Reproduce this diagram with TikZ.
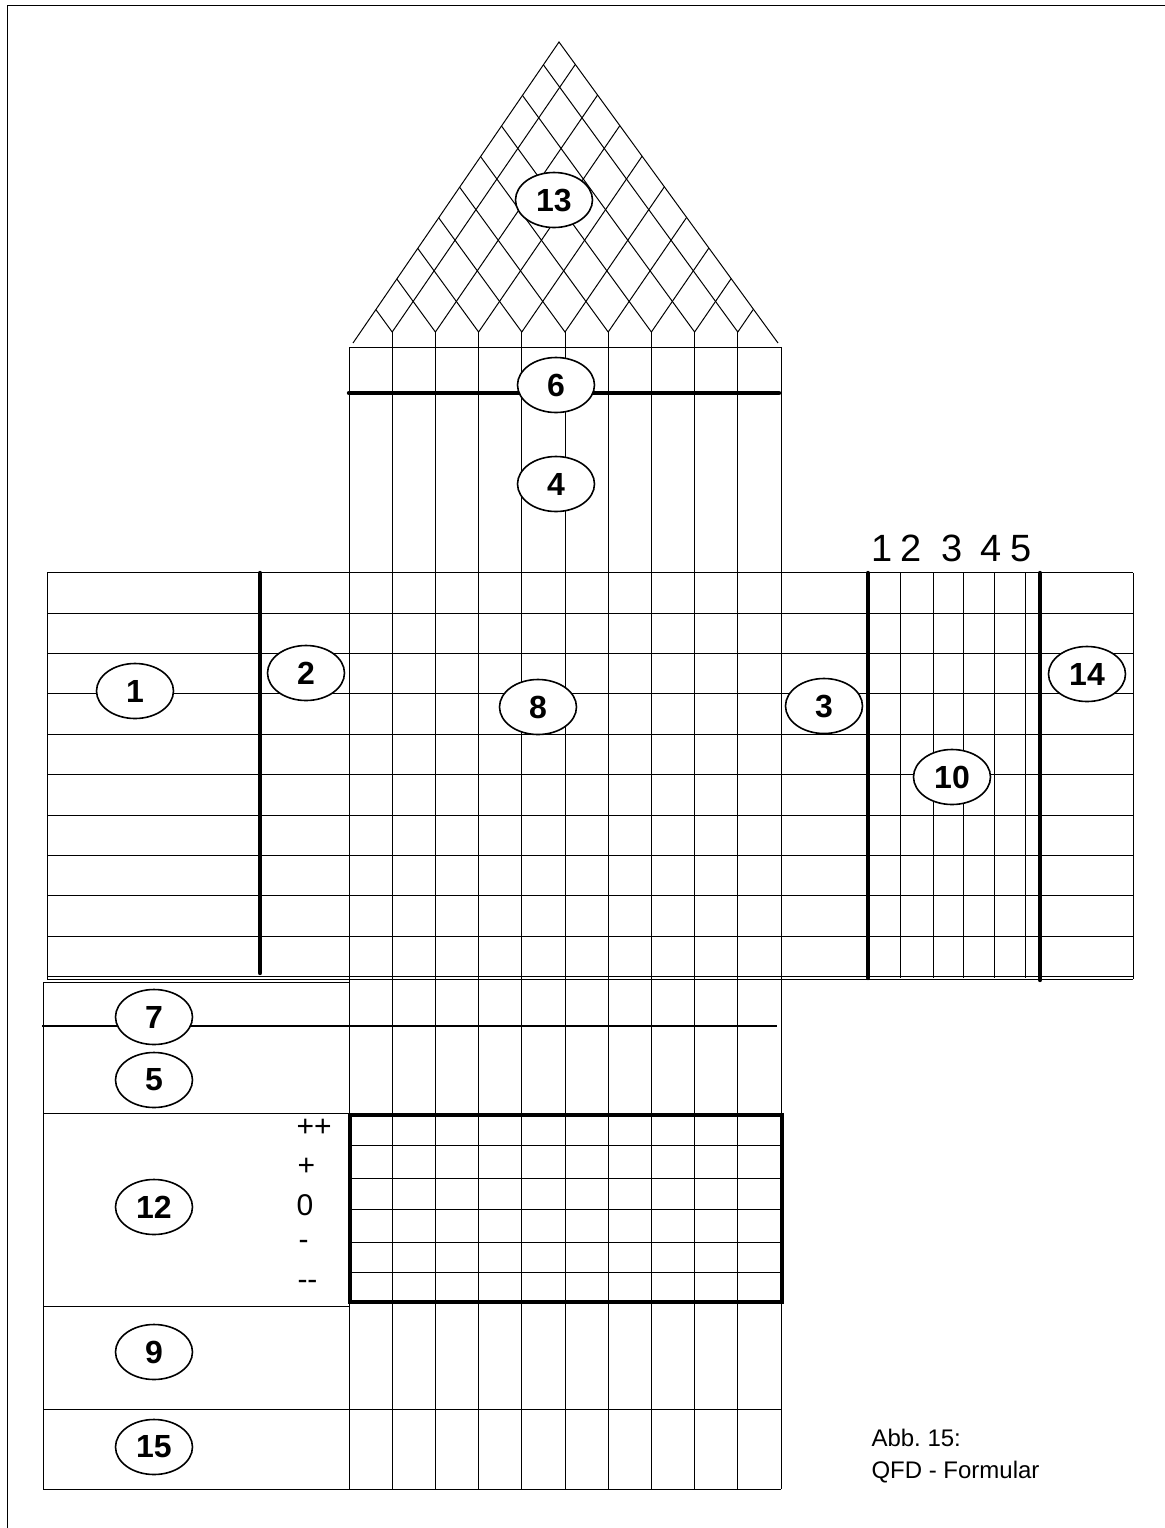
\documentclass[tikz,border=0pt]{standalone}
\usepackage{fontspec}
\setmainfont{Liberation Sans}
\usetikzlibrary{shapes.geometric}
\frenchspacing

\begin{document}
\begin{tikzpicture}[x=0.5pt, y=-0.5pt, line width=0.5pt,
    nr/.style={draw, ellipse, line width=0.8pt, fill=white, minimum width=38.5pt, minimum height=27.5pt, inner sep=0pt, font=\fontsize{16}{16}\selectfont\bfseries},
    heavy/.style={line width=2.2pt, line cap=round},
    scalelbl/.style={anchor=west, inner sep=0pt, font=\fontsize{15}{15}\selectfont}]
  \useasboundingbox (0,0) rectangle (1165,1528);
  \draw (7,1528) -- (7,5) -- (1165,5);
  % roof
  \coordinate (apex) at (559,42);
  \coordinate (bl) at (353,343);
  \coordinate (br) at (778,343);
  \draw (bl) -- (apex) -- (br);
  \foreach \i in {1,...,9}{
    \pgfmathsetmacro{\xp}{349+43.2*\i}
    \pgfmathsetmacro{\tl}{(\xp-360.53)/425}
    \pgfmathsetmacro{\tr}{(770.0-\xp)/425}
    \coordinate (p\i) at (\xp,332);
    \draw ({\xp-219*\tl},{332-301*\tl}) -- (p\i) -- ({\xp+206*\tr},{332-301*\tr});
  }
  % columns
  \draw (349,1489) -- (349,347) -- (781,347) -- (781,1489);
  \foreach \i in {1,...,9} \draw (p\i) -- ({349+43.2*\i},1489);
  \draw[heavy] (349,393) -- (779,393);
  % rows of the middle part
  \foreach \k in {0,...,10} \draw (47,{572.7+40.4*\k}) -- (1133,{572.7+40.4*\k});
  \draw (47,979.3) -- (1133,979.3);
  \draw (47,573) -- (47,979) (1133,573) -- (1133,979);
  \foreach \x in {900.3,933.7,963.7,994.7,1025.3} \draw (\x,573) -- (\x,978);
  \draw[heavy] (260,573) -- (260,973);
  \draw[heavy] (868,573) -- (868,978);
  \draw[heavy] (1040,573) -- (1040,980);
  \foreach \n/\x in {1/881.7,2/910.7,3/951.7,4/990.7,5/1021}
    \node[font=\fontsize{19}{19}\selectfont, inner sep=0pt, anchor=base] (w\n) at (\x,561) {\n};
  % lower part
  \draw (349,982) -- (43,982) -- (43,1489) -- (781,1489);
  \draw[line width=1pt] (42,1026) -- (777,1026);
  \draw (43,1113) -- (349,1113);
  \draw[line width=2pt] (350,1115) rectangle (782,1302);
  \foreach \y in {1145,1178,1209,1242,1272} \draw (350,\y) -- (782,\y);
  \draw (43,1306) -- (349,1306);
  \draw (43,1409) -- (781,1409);
  \node[scalelbl] (s1) at (296,1128) {++};
  \node[scalelbl] (s2) at (297,1167) {+};
  \node[scalelbl] (s3) at (296,1205) {0};
  \node[scalelbl] (s4) at (298,1245) {-};
  \node[scalelbl] (s5) at (297,1285) {-{}-};
  % numbered fields
  \node[nr] (n13) at (554,200) {13};
  \node[nr] (n6) at (556,385) {6};
  \node[nr] (n4) at (556,484) {4};
  \node[nr] (n1) at (135,691) {1};
  \node[nr] (n2) at (306,673) {2};
  \node[nr] (n8) at (538,707) {8};
  \node[nr] (n3) at (824,706) {3};
  \node[nr] (n10) at (952,777) {10};
  \node[nr] (n14) at (1087,674) {14};
  \node[nr] (n7) at (154,1017) {7};
  \node[nr] (n5) at (154,1080) {5};
  \node[nr] (n12) at (154,1207) {12};
  \node[nr] (n9) at (154,1352) {9};
  \node[nr] (n15) at (154,1447) {15};
  \node[anchor=west, inner sep=0pt, font=\fontsize{12}{12}\selectfont] (cap1) at (871,1438) {Abb. 15:};
  \node[anchor=west, inner sep=0pt, font=\fontsize{12}{12}\selectfont] (cap2) at (871,1472) {QFD - Formular};
\end{tikzpicture}
\end{document}
